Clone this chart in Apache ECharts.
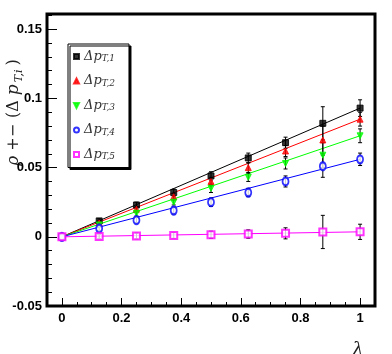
<!DOCTYPE html>
<html>
<head>
<meta charset="utf-8">
<script src="https://cdn.jsdelivr.net/npm/echarts@6/dist/echarts.min.js"></script>
<style>html,body{margin:0;padding:0;background:#fff}</style>
</head>
<body>
<div id="chart" style="width:392px;height:354px;"></div>
<script>
// lambda values and the five rho(+-) series
const lambda = [0, 0.125, 0.25, 0.375, 0.5, 0.625, 0.75, 0.875, 1]
const pT1 = [0, 0.0115, 0.023, 0.032, 0.044, 0.057, 0.068, 0.082, 0.093]
const pT2 = [0, 0.010, 0.020, 0.029, 0.040, 0.050, 0.062, 0.070, 0.085]
const pT3 = [0, 0.0086, 0.017, 0.025, 0.035, 0.043, 0.053, 0.059, 0.073]
const pT4 = [0, 0.006, 0.012, 0.019, 0.025, 0.032, 0.040, 0.051, 0.056]
const pT5 = [0, 0.0003, 0.0006, 0.001, 0.0015, 0.002, 0.0025, 0.0035, 0.0036]
// symmetric errors
const err1 = [0.001, 0.0015, 0.002, 0.0025, 0.003, 0.0035, 0.004, 0.012, 0.006]
const err2 = [0.001, 0.0015, 0.002, 0.0025, 0.003, 0.0035, 0.004, 0.010, 0.005]
const err3 = [0.001, 0.0015, 0.002, 0.002, 0.003, 0.003, 0.004, 0.009, 0.005]
const err4 = [0.001, 0.0015, 0.002, 0.0025, 0.003, 0.003, 0.004, 0.008, 0.0045]
const err5 = [0.001, 0.0015, 0.002, 0.002, 0.0025, 0.003, 0.004, 0.012, 0.0055]
// slopes of the straight-line fits
const fitSlope = [0.093, 0.085, 0.073, 0.056, 0.0036]
const subs = ['T,1', 'T,2', 'T,3', 'T,4', 'T,5']

const xMajor = [0, 0.2, 0.4, 0.6, 0.8, 1]
const xMinor = [-0.05, 0.05, 0.1, 0.15, 0.25, 0.3, 0.35, 0.45, 0.5, 0.55, 0.65, 0.7, 0.75, 0.85, 0.9, 0.95, 1.05]
const yMajor = [-0.05, 0, 0.05, 0.1, 0.15]
const yMinor = [-0.04, -0.03, -0.02, -0.01, 0.01, 0.02, 0.03, 0.04, 0.06, 0.07, 0.08, 0.09, 0.11, 0.12, 0.13, 0.14, 0.16]

const values = [pT1, pT2, pT3, pT4, pT5]
const errors = [err1, err2, err3, err4, err5]
const colors = ['#000000', '#ff0000', '#00ff00', '#0000ff', '#ff00ff']
const symbols = ['rect', 'triangle', 'triangle', 'emptyCircle', 'emptyRect']
const rotates = [0, 0, 180, 0, 0]
const sizes = [6, 6, 6, [6, 8], 7]
const legendIcons = ['rect', 'triangle', 'path://M0,0L10,0L5,10Z', 'emptyCircle', 'emptyRect']

const tickFont = { color: '#000', fontFamily: 'Liberation Sans Narrow, Liberation Sans, Arial', fontWeight: 'bold', fontSize: 13 }
const fmt = v => String(Number(v.toFixed(2)))

const series = []
values.forEach((vals, i) => {
  series.push({
    name: subs[i] + ' fit',
    type: 'line',
    data: [[0, 0], [1, fitSlope[i]]],
    showSymbol: false,
    lineStyle: { color: colors[i], width: 1 },
    itemStyle: { color: colors[i] },
    silent: true,
    z: 2
  })
  series.push({
    name: subs[i] + ' err',
    type: 'custom',
    data: lambda.map((x, k) => [x, vals[k], errors[i][k]]),
    encode: { x: 0, y: 1 },
    renderItem: (params, api) => {
      const x = api.value(0), y = api.value(1), e = api.value(2)
      const top = api.coord([x, y + e])
      const bot = api.coord([x, y - e])
      const st = { stroke: '#000', lineWidth: 1 }
      return {
        type: 'group',
        children: [
          { type: 'line', shape: { x1: top[0], y1: top[1], x2: bot[0], y2: bot[1] }, style: st },
          { type: 'line', shape: { x1: top[0] - 2, y1: top[1], x2: top[0] + 2, y2: top[1] }, style: st },
          { type: 'line', shape: { x1: bot[0] - 2, y1: bot[1], x2: bot[0] + 2, y2: bot[1] }, style: st }
        ]
      }
    },
    silent: true,
    z: 3
  })
  series.push({
    name: subs[i],
    type: 'scatter',
    data: lambda.map((x, k) => [x, vals[k]]),
    symbol: symbols[i],
    symbolRotate: rotates[i],
    symbolSize: sizes[i],
    itemStyle: { color: colors[i], borderColor: colors[i], borderWidth: 1 },
    z: 4
  })
})

const option = {
  animation: false,
  backgroundColor: '#fff',
  grid: { left: 47, right: 17, top: 14, bottom: 48, show: true, borderColor: '#000', borderWidth: 3, backgroundColor: 'transparent' },
  legend: {
    orient: 'vertical',
    left: 68,
    top: 44,
    data: subs.map((s, i) => ({ name: s, icon: legendIcons[i] })),
    padding: [6, 14, 6, 5],
    itemGap: 11,
    itemWidth: 5,
    itemHeight: 5,
    itemTextGap: 6,
    backgroundColor: '#fff',
    borderColor: '#000',
    borderWidth: 1,
    shadowColor: '#000',
    shadowBlur: 0,
    shadowOffsetX: 2,
    shadowOffsetY: 2,
    formatter: name => '{d|Δp}{s|' + name + '}',
    textStyle: {
      rich: {
        d: { fontFamily: 'DejaVu Serif', fontStyle: 'italic', fontSize: 13, color: '#333', lineHeight: 14 },
        s: { fontFamily: 'DejaVu Serif', fontStyle: 'italic', fontSize: 9, color: '#333', lineHeight: 14, verticalAlign: 'bottom' }
      }
    }
  },
  xAxis: [
    {
      type: 'value', min: -0.05, max: 1.05, position: 'bottom',
      axisLine: { show: false, onZero: false },
      axisTick: { show: true, inside: true, length: 8, customValues: xMajor, lineStyle: { color: '#000', width: 1 } },
      axisLabel: Object.assign({ customValues: xMajor, formatter: fmt, margin: 6 }, tickFont),
      splitLine: { show: false }
    },
    {
      type: 'value', min: -0.05, max: 1.05, position: 'bottom',
      axisLine: { show: false, onZero: false },
      axisTick: { show: true, inside: true, length: 4, customValues: xMinor, lineStyle: { color: '#000', width: 1 } },
      axisLabel: { show: false },
      splitLine: { show: false }
    }
  ],
  yAxis: [
    {
      type: 'value', min: -0.05, max: 0.161, position: 'left',
      axisLine: { show: false, onZero: false },
      axisTick: { show: true, inside: true, length: 10, customValues: yMajor, lineStyle: { color: '#000', width: 1 } },
      axisLabel: Object.assign({ customValues: yMajor, formatter: fmt, margin: 5 }, tickFont),
      splitLine: { show: false }
    },
    {
      type: 'value', min: -0.05, max: 0.161, position: 'left',
      axisLine: { show: false, onZero: false },
      axisTick: { show: true, inside: true, length: 5, customValues: yMinor, lineStyle: { color: '#000', width: 1 } },
      axisLabel: { show: false },
      splitLine: { show: false }
    }
  ],
  graphic: [
    {
      type: 'text', x: 14, y: 112, rotation: Math.PI / 2,
      style: {
        text: '{g|ρ}{n|+−}{n|(Δ}{g|p}{s|T,i}{n|)}',
        align: 'center', verticalAlign: 'middle',
        rich: {
          g: { fontFamily: 'DejaVu Serif', fontStyle: 'italic', fontSize: 17, fill: '#222', lineHeight: 22, padding: [0, 2, 0, 2] },
          n: { fontFamily: 'DejaVu Serif', fontSize: 16, fill: '#222', lineHeight: 22, padding: [0, 3, 0, 3] },
          s: { fontFamily: 'DejaVu Serif', fontStyle: 'italic', fontSize: 11, fill: '#222', lineHeight: 22, verticalAlign: 'bottom', padding: [0, 1, 0, 0] }
        }
      }
    },
    {
      type: 'text', x: 358, y: 350,
      style: { text: 'λ', fontFamily: 'DejaVu Serif', fontStyle: 'italic', fontSize: 18, fill: '#222', align: 'center', verticalAlign: 'middle' }
    }
  ],
  series: series
}

const chart = echarts.init(document.getElementById('chart'))
chart.setOption(option)
</script>
</body>
</html>
